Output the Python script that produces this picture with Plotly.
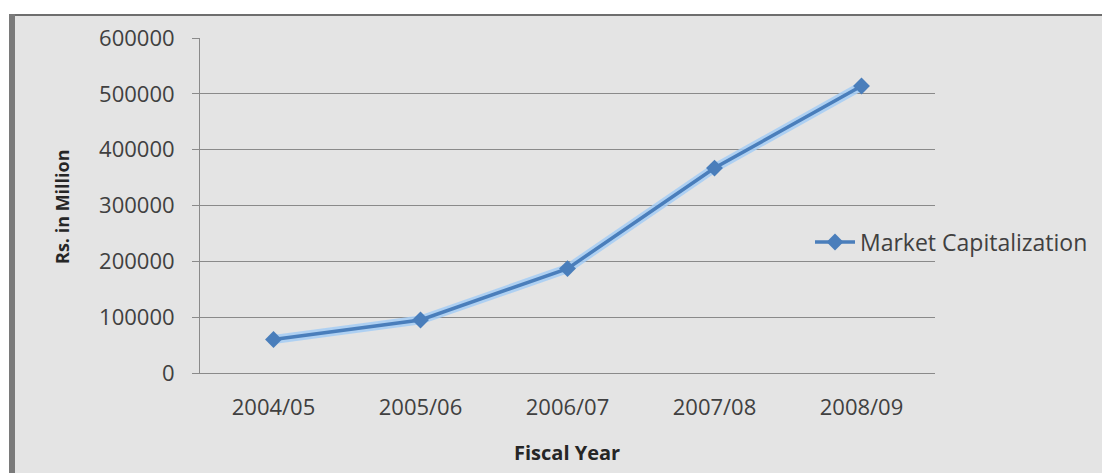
import plotly.graph_objects as go

# Market capitalization by fiscal year (Rs. in Million)
fiscal_years = ["2004/05", "2005/06", "2006/07", "2007/08", "2008/09"]
market_cap = [60000, 95000, 187000, 367000, 514000]
y_ticks = [0, 100000, 200000, 300000, 400000, 500000, 600000]

W, H = 1102, 473
L, R, T, B = 200, 167, 38, 100
pw, ph = W - L - R, H - T - B


def px_x(x):
    return (x - L) / pw


def px_y(y):
    return (H - B - y) / ph


line_blue = "#4a7ebb"
grid_gray = "#8a8a8a"
FONT = "'Open Sans', Lato, sans-serif"
tick_font = dict(family=FONT, size=22, color="#404040")

fig = go.Figure()

# soft glow beneath the series line
fig.add_trace(go.Scatter(
    x=fiscal_years, y=market_cap, mode="lines",
    line=dict(color="rgba(165,205,245,0.85)", width=9),
    hoverinfo="skip", showlegend=False,
))
fig.add_trace(go.Scatter(
    x=fiscal_years, y=market_cap, mode="lines+markers",
    name="Market Capitalization",
    line=dict(color=line_blue, width=3.5),
    marker=dict(symbol="diamond", size=13, color=line_blue),
))

shapes = [
    # chart-area background
    dict(type="rect", xref="paper", yref="paper", layer="below",
         x0=px_x(15), x1=px_x(W + 5), y0=px_y(H + 5), y1=px_y(16),
         fillcolor="#e4e4e4", line=dict(width=0)),
    # frame: top rule and heavy left edge
    dict(type="line", xref="paper", yref="paper",
         x0=px_x(9), x1=px_x(W + 5), y0=px_y(15), y1=px_y(15),
         line=dict(color="#6e6e6e", width=2)),
    dict(type="rect", xref="paper", yref="paper",
         x0=px_x(9), x1=px_x(15), y0=px_y(H + 5), y1=px_y(14),
         fillcolor="#7a7a7a", line=dict(width=0)),
]

annotations = [
    dict(text="<b>Rs. in Million</b>", xref="paper", yref="paper",
         x=px_x(62), y=px_y(207), textangle=-90, showarrow=False,
         xanchor="center", yanchor="middle",
         font=dict(family=FONT, size=18, color="#262626")),
    dict(text="<b>Fiscal Year</b>", xref="paper", yref="paper",
         x=px_x(567), y=px_y(452), showarrow=False,
         xanchor="center", yanchor="middle",
         font=dict(family=FONT, size=20, color="#262626")),
]

fig.update_layout(
    width=W, height=H,
    margin=dict(l=L, r=R, t=T, b=B, autoexpand=False),
    paper_bgcolor="white",
    plot_bgcolor="rgba(0,0,0,0)",
    shapes=shapes,
    annotations=annotations,
    showlegend=True,
    legend=dict(
        x=px_x(810), y=px_y(242), xanchor="left", yanchor="middle",
        bgcolor="rgba(0,0,0,0)", borderwidth=0,
        font=dict(family=FONT, size=23, color="#404040"),
        itemwidth=40,
    ),
    xaxis=dict(
        type="category", range=[-0.5, 4.5],
        showgrid=False, zeroline=False,
        showline=True, linecolor=grid_gray, linewidth=1,
        ticks="", tickfont=tick_font, ticklabelstandoff=15,
    ),
    yaxis=dict(
        range=[0, 600000], tickvals=y_ticks,
        ticktext=[str(v) for v in y_ticks],
        showgrid=True, gridcolor=grid_gray, gridwidth=1,
        zeroline=False, showline=True, linecolor=grid_gray, linewidth=1,
        ticks="outside", ticklen=7, tickcolor=grid_gray,
        tickfont=tick_font, ticklabelstandoff=13,
    ),
)

fig.write_html("out.html")
